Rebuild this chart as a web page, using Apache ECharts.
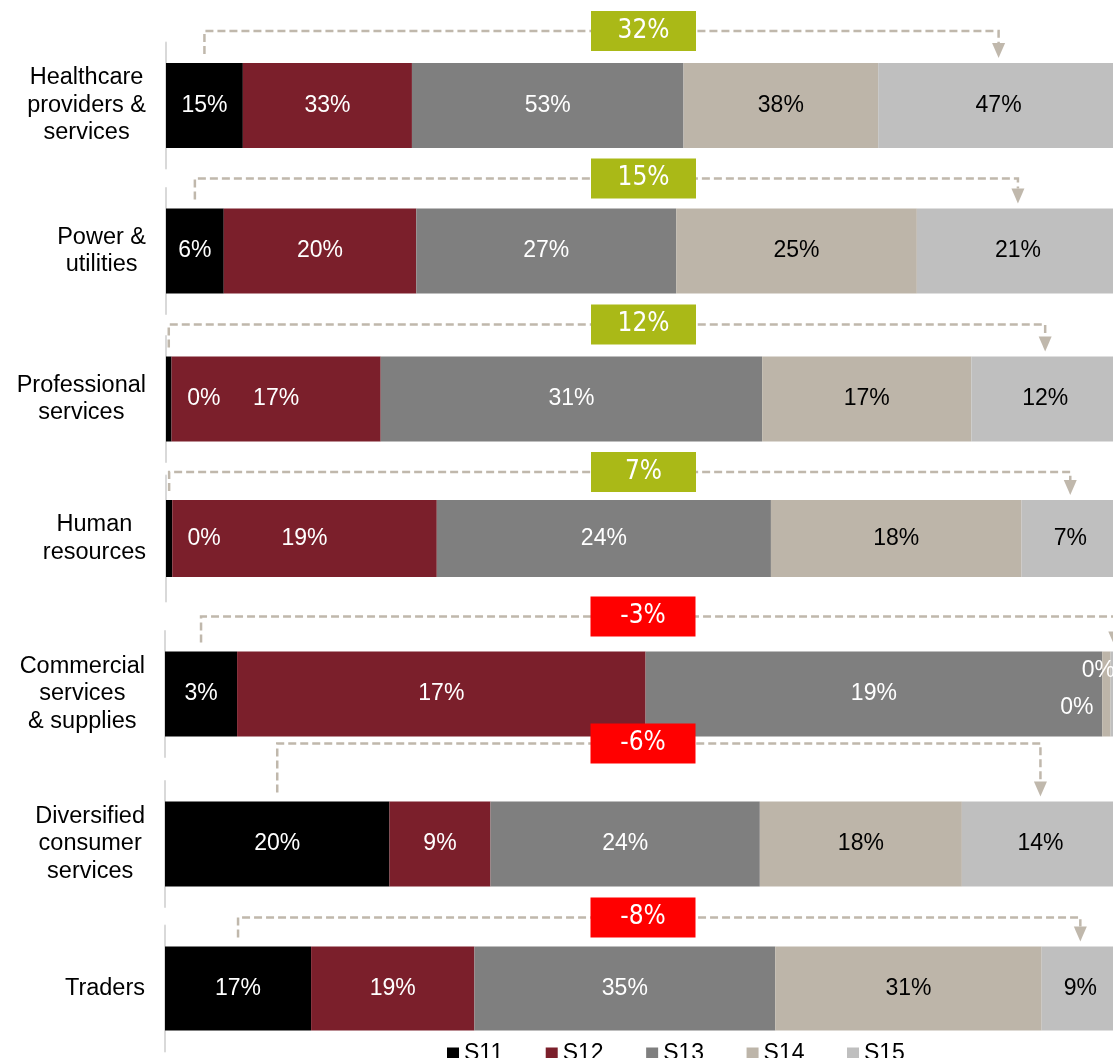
<!DOCTYPE html>
<html>
<head>
<meta charset="utf-8">
<title>Segment shares by industry</title>
<script src="https://cdn.jsdelivr.net/npm/echarts@6/dist/echarts.min.js"></script>
<style>
  html, body { margin: 0; padding: 0; background: #ffffff; }
  #chart { width: 1113px; height: 1058px; }
</style>
</head>
<body>
<div id="chart"></div>
<script>
// ---- data ----
const categories = [
  'Healthcare\nproviders &\nservices',
  'Power &\nutilities',
  'Professional\nservices',
  'Human\nresources',
  'Commercial\nservices\n& supplies',
  'Diversified\nconsumer\nservices',
  'Traders'
];
const seriesNames = ['S11', 'S12', 'S13', 'S14', 'S15'];
const s11 = [15, 6, 0.45, 0.45, 3, 20, 17];
const s12 = [33, 20, 17, 19, 17, 9, 19];
const s13 = [53, 27, 31, 24, 19, 24, 35];
const s14 = [38, 25, 17, 18, 0.35, 18, 31];
const s15 = [47, 21, 12, 7, 0.35, 14, 9];
const seriesValues = [s11, s12, s13, s14, s15];

// ---- styling / layout ----
const seriesColors = ['#000000', '#7b1f2b', '#7f7f7f', '#bdb5a9', '#bfbfbf'];
const labelColors = ['#ffffff', '#ffffff', '#ffffff', '#000000', '#000000'];
const upColor = '#aab917';
const downColor = '#ff0000';
const dashColor = '#c0b8ac';
const baseFont = '"Liberation Sans", Arial, sans-serif';
const boxFont = '"Liberation Sans Narrow", "DejaVu Sans Condensed", "Liberation Sans", sans-serif';

const rowCenter = [105.5, 251, 399, 538.5, 694, 844, 988.5];
const barHeight = [85, 85, 85, 77, 85, 85, 84];
const gridLeft = [166, 166, 166, 166, 165, 165, 165];
const plotRight = 1119;          // bars run slightly past the right edge of the canvas
const bracketRise = [32, 30, 32, 28, 35, 58, 29];
const panelHalf = 63;

// measure the widest line of a category label so the block sits right-aligned with centred lines
const measureCtx = document.createElement('canvas').getContext('2d');
measureCtx.font = '23.5px ' + baseFont;
function blockWidth(str) {
  return Math.max.apply(null, str.split('\n').map(s => measureCtx.measureText(s).width));
}

// label offsets for the near-zero segments
function smallLabelShift(seriesIdx) {
  if (seriesIdx === 0) return { dx: 35, dy: 0 };
  if (seriesIdx === 3) return { dx: -8, dy: -23 };
  if (seriesIdx === 4) return { dx: -38, dy: 14 };
  return { dx: 0, dy: 0 };
}

const grids = [], xAxes = [], yAxes = [], series = [];

categories.forEach((cat, row) => {
  const raw = seriesValues.map(arr => arr[row]);
  const total = raw.reduce((a, b) => a + b, 0);
  const share = raw.map(v => v / total * 100);

  grids.push({
    left: gridLeft[row],
    width: plotRight - gridLeft[row],
    top: rowCenter[row] - panelHalf,
    height: panelHalf * 2,
    outerBoundsMode: 'none',
    containLabel: false
  });
  xAxes.push({
    gridIndex: row, type: 'value', min: 0, max: 100, show: false
  });
  yAxes.push({
    gridIndex: row,
    type: 'category',
    data: [cat],
    axisLine: { show: true, lineStyle: { color: '#d9d9d9', width: 2 } },
    axisTick: { show: false },
    splitLine: { show: false },
    axisLabel: {
      fontFamily: baseFont,
      fontSize: 23.5,
      lineHeight: 27.5,
      color: '#000000',
      align: 'center',
      margin: 20 + blockWidth(cat) / 2
    }
  });

  seriesNames.forEach((name, si) => {
    const small = raw[si] < 1;
    series.push({
      name: name,
      type: 'bar',
      xAxisIndex: row,
      yAxisIndex: row,
      stack: 'row' + row,
      barWidth: barHeight[row],
      itemStyle: { color: seriesColors[si] },
      data: [{
        value: share[si],
        label: { color: small ? '#ffffff' : labelColors[si] }
      }],
      label: {
        show: true,
        position: 'inside',
        fontFamily: baseFont,
        fontSize: 23,
        formatter: () => Math.round(raw[si]) + '%'
      },
      labelLayout: small ? () => smallLabelShift(si) : undefined,
      emphasis: { disabled: true },
      z: 2
    });
  });

  // bracket from the S11 segment to the S15 segment with the change in between
  const startX = share[0] / 2;
  const endX = 100 - share[4] / 2;
  const change = Math.round(raw[4] - raw[0]);
  series.push({
    type: 'custom',
    xAxisIndex: row,
    yAxisIndex: row,
    silent: true,
    z: 5,
    clip: false,
    dimensions: ['start', 'end', 'change', 'row'],
    encode: { x: [0, 1], y: 3 },
    data: [[startX, endX, change, 0]],
    renderItem: function (params, api) {
      const p1 = api.coord([api.value(0), 0]);
      const p2 = api.coord([api.value(1), 0]);
      const mid = api.coord([50, 0]);
      const diff = api.value(2);
      const barTop = p1[1] - barHeight[row] / 2;
      const lineY = barTop - bracketRise[row];
      const tipY = barTop - 5;
      const headH = 15, headW = 13;
      const boxW = 105, boxH = 40;
      const boxCx = mid[0] + 1;
      return {
        type: 'group',
        children: [
          {
            type: 'polyline',
            shape: { points: [[p1[0], barTop - 9], [p1[0], lineY], [p2[0], lineY], [p2[0], tipY - headH]] },
            style: { stroke: dashColor, lineWidth: 2.5, lineDash: [8, 4], fill: null }
          },
          {
            type: 'polygon',
            shape: { points: [[p2[0] - headW / 2, tipY - headH], [p2[0] + headW / 2, tipY - headH], [p2[0], tipY]] },
            style: { fill: dashColor }
          },
          {
            type: 'rect',
            shape: { x: boxCx - boxW / 2, y: lineY - boxH / 2, width: boxW, height: boxH },
            style: { fill: diff >= 0 ? upColor : downColor }
          },
          {
            type: 'text',
            x: boxCx,
            y: lineY,
            style: {
              text: diff + '%',
              fill: '#ffffff',
              font: '26px ' + boxFont,
              align: 'center',
              verticalAlign: 'middle'
            }
          }
        ]
      };
    }
  });
});

const chart = echarts.init(document.getElementById('chart'), null, { renderer: 'canvas' });
chart.setOption({
  animation: false,
  backgroundColor: '#ffffff',
  grid: grids,
  xAxis: xAxes,
  yAxis: yAxes,
  legend: {
    data: seriesNames,
    left: 442,
    top: 1037,
    icon: 'rect',
    itemWidth: 12,
    itemHeight: 12,
    itemGap: 42.5,
    selectedMode: false,
    textStyle: { fontFamily: baseFont, fontSize: 23, color: '#000000' }
  },
  series: series
});
</script>
</body>
</html>
